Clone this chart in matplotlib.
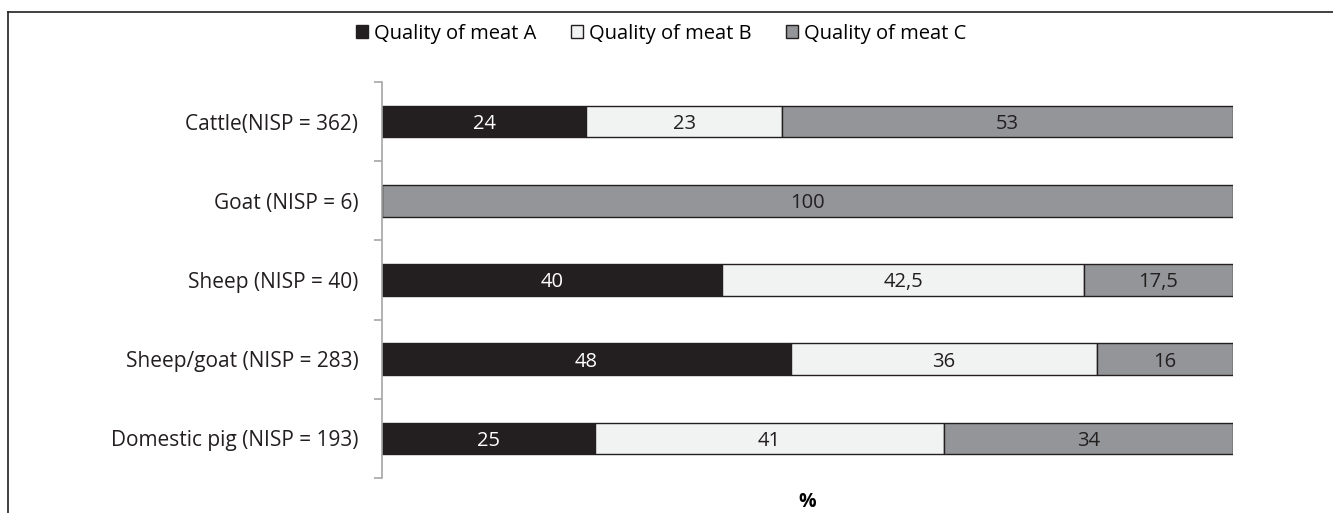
import matplotlib.pyplot as plt
from matplotlib.lines import Line2D
import numpy as np

plt.rcParams['font.family'] = ['Open Sans', 'DejaVu Sans']

categories = ["Cattle(NISP = 362)", "Goat (NISP = 6)", "Sheep (NISP = 40)",
              "Sheep/goat (NISP = 283)", "Domestic pig (NISP = 193)"]
meat_a = [24, 0, 40, 48, 25]
meat_b = [23, 0, 42.5, 36, 41]
meat_c = [53, 100, 17.5, 16, 34]
series_names = ["Quality of meat A", "Quality of meat B", "Quality of meat C"]
colors = ["#231f20", "#f1f2f2", "#939598"]
text_colors = ["white", "#231f20", "#231f20"]

fig = plt.figure(figsize=(13.33, 5.13), dpi=100)
ax = fig.add_axes([0.2866, 0.0682, 0.6384, 0.7720])

y = np.arange(len(categories))
left = np.zeros(len(categories))
for vals, name, col, tcol in zip([meat_a, meat_b, meat_c], series_names, colors, text_colors):
    vals = np.array(vals, dtype=float)
    ax.barh(y, vals, left=left, height=0.4, color=col, edgecolor="#231f20",
            linewidth=1.0, label=name)
    for yi, v, l in zip(y, vals, left):
        if v > 0:
            txt = ("%g" % v).replace(".", ",")
            ax.text(l + v / 2, yi, txt, ha="center", va="center_baseline",
                    color=tcol, fontsize=14.5)
    left += vals

ax.set_xlim(0, 100)
ax.set_ylim(len(categories) - 0.5, -0.5)
ax.set_yticks(y)
ax.set_yticklabels(categories, fontsize=15, color="#231f20")
ax.set_yticks(np.arange(-0.5, len(categories)), minor=True)
ax.tick_params(axis="y", which="major", length=0, pad=17)
ax.tick_params(axis="y", which="minor", length=6, color="#a6a6a6", width=1.2)
ax.set_xticks([])
for s in ["top", "right", "bottom"]:
    ax.spines[s].set_visible(False)
ax.spines["left"].set_color("#a6a6a6")
ax.spines["left"].set_linewidth(1.2)

ax.set_xlabel("%", fontsize=14, fontweight="bold")
ax.xaxis.set_label_coords(0.5, -0.035)

fig.legend(loc="center", bbox_to_anchor=(0.496, 0.934), ncol=3, frameon=False,
           fontsize=14.5, handlelength=0.6, handleheight=0.6, handletextpad=0.3,
           columnspacing=1.7)

# outer frame (right and bottom edges are cut off in the original)
fig.add_artist(Line2D([8 / 1333, 1.0], [1 - 12 / 513] * 2, transform=fig.transFigure,
                      color="#231f20", linewidth=1.2))
fig.add_artist(Line2D([8 / 1333] * 2, [0, 1 - 12 / 513], transform=fig.transFigure,
                      color="#231f20", linewidth=1.2))

fig.savefig("out.png", dpi=100)
